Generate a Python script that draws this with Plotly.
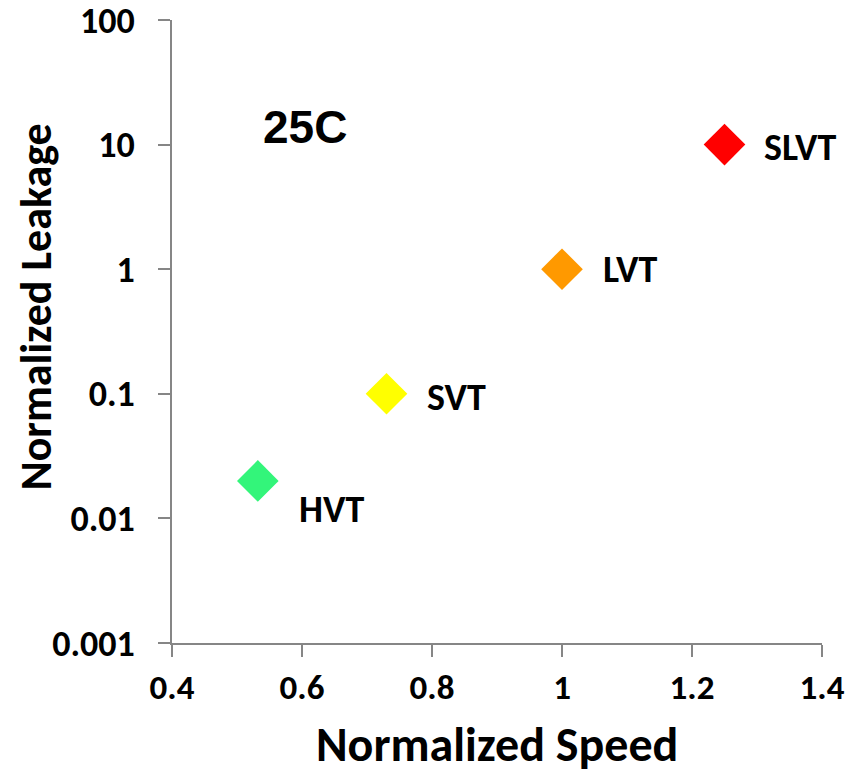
import math
import plotly.graph_objects as go

names = ["HVT", "SVT", "LVT", "SLVT"]
speed = [0.532, 0.73, 1.0, 1.25]
leakage = [0.02, 0.1, 1.0, 10.0]
colors = ["#33F57A", "#FFFF00", "#FF9900", "#FF0000"]
label_shift = [(74, -28), (70, -3), (68, 0), (76, -2)]

ytick_vals = [0.001, 0.01, 0.1, 1, 10, 100]
ytick_text = ["0.001", "0.01", "0.1", "1", "10", "100"]
xtick_vals = [0.4, 0.6, 0.8, 1.0, 1.2, 1.4]
xtick_text = ["0.4", "0.6", "0.8", "1", "1.2", "1.4"]

FONT = "Carlito, Lato"

fig = go.Figure()
fig.add_trace(go.Scatter(
    x=speed, y=leakage, mode="markers",
    marker=dict(symbol="diamond", size=32, color=colors, line=dict(width=0)),
    showlegend=False, hoverinfo="skip",
))

annotations = []
for n, xv, yv, (dx, dy) in zip(names, speed, leakage, label_shift):
    annotations.append(dict(
        x=xv, y=math.log10(yv), xref="x", yref="y", yanchor="middle", xanchor="center",
        text=n, showarrow=False, xshift=dx, yshift=dy,
        font=dict(family=FONT, size=38, color="black", weight="bold"),
    ))
annotations.append(dict(
    x=0.205, y=0.828, xref="paper", yref="paper", text="25C", showarrow=False,
    xanchor="center", yanchor="middle",
    font=dict(family="Liberation Sans, Arial", size=46, color="black", weight="bold"),
))
annotations.append(dict(
    x=-0.209, y=0.539, xref="paper", yref="paper", text="Normalized Leakage",
    showarrow=False, textangle=-90, xanchor="center", yanchor="middle",
    font=dict(family=FONT, size=44, color="black", weight="bold"),
))
annotations.append(dict(
    x=0.5, y=-0.163, xref="paper", yref="paper", text="Normalized Speed",
    showarrow=False, xanchor="center", yanchor="middle",
    font=dict(family=FONT, size=48, color="black", weight="bold"),
))

fig.update_layout(
    width=857, height=774,
    margin=dict(l=172, r=35, t=20, b=131),
    paper_bgcolor="white", plot_bgcolor="white",
    annotations=annotations,
    xaxis=dict(
        range=[0.4, 1.4], tickvals=xtick_vals, ticktext=xtick_text,
        showgrid=False, zeroline=False, showline=True, linecolor="#868686", linewidth=2,
        ticks="outside", ticklen=12, tickwidth=2, tickcolor="#868686",
        tickfont=dict(family=FONT, size=35, color="black", weight="bold"),
        ticklabelstandoff=0, automargin=False, ticklabeloverflow="allow",
    ),
    yaxis=dict(
        type="log", range=[-3, 2], tickvals=ytick_vals, ticktext=ytick_text,
        showgrid=False, zeroline=False, showline=True, linecolor="#868686", linewidth=2,
        ticks="outside", ticklen=12, tickwidth=2, tickcolor="#868686",
        tickfont=dict(family=FONT, size=36, color="black", weight="bold"),
        ticklabelstandoff=16, automargin=False, ticklabeloverflow="allow",
    ),
)

fig.write_html("out.html")
